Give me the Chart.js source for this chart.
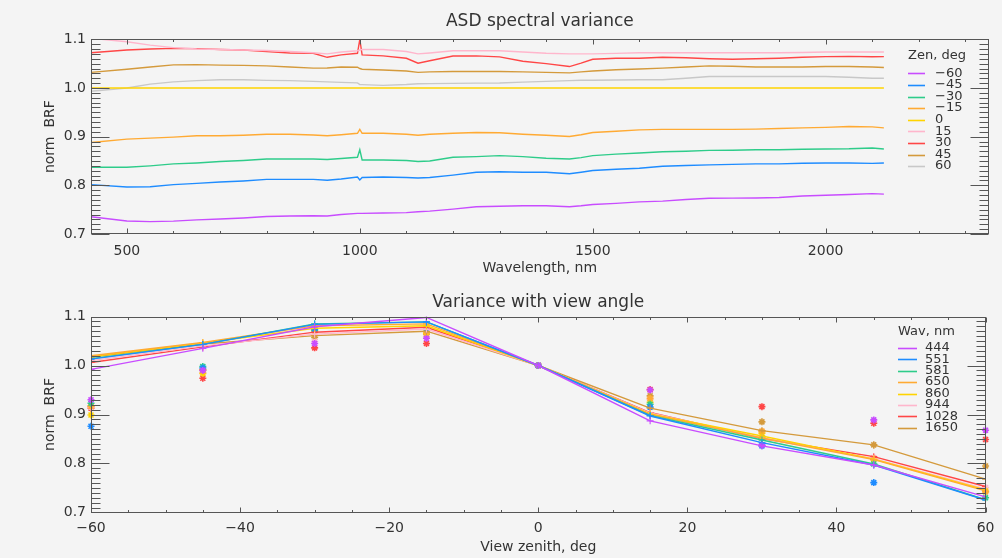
<!DOCTYPE html>
<html><head><meta charset="utf-8">
<script src="https://cdn.jsdelivr.net/npm/chart.js@4"></script>
<style>
html,body{margin:0;padding:0;background:#f4f4f4;}
#wrap{position:relative;width:1002px;height:558px;overflow:hidden;background:#f4f4f4;}
canvas{position:absolute;left:0;}
#c1{top:0;} #c2{top:282px;}
</style></head><body>
<div id="wrap"><canvas id="c1" width="1002" height="282"></canvas><canvas id="c2" width="1002" height="276"></canvas></div>
<script>
// ---------- DATA: top chart (ASD spectral variance) ----------
const wavelengths = [423, 500, 550, 600, 650, 700, 750, 800, 850, 900, 930, 960, 995, 1000, 1005, 1050, 1100, 1125, 1150, 1200, 1250, 1300, 1350, 1400, 1450, 1475, 1500, 1550, 1600, 1650, 1700, 1750, 1800, 1850, 1900, 1950, 2000, 2050, 2100, 2125];
const zenLabels = ['−60', '−45', '−30', '−15', '0', '15', '30', '45', '60'];
const brfZenM60 = [0.7356, 0.7268, 0.7254, 0.7265, 0.729, 0.7308, 0.733, 0.736, 0.737, 0.7376, 0.737, 0.740, 0.7424, 0.7424, 0.7424, 0.743, 0.744, 0.7458, 0.747, 0.751, 0.756, 0.757, 0.758, 0.758, 0.756, 0.758, 0.7607, 0.763, 0.766, 0.7675, 0.771, 0.7735, 0.7737, 0.774, 0.775, 0.778, 0.7797, 0.781, 0.783, 0.782];
const brfZenM45 = [0.8014, 0.7966, 0.797, 0.8014, 0.804, 0.8068, 0.809, 0.8122, 0.8122, 0.8122, 0.8105, 0.813, 0.817, 0.811, 0.816, 0.817, 0.816, 0.815, 0.816, 0.821, 0.827, 0.828, 0.827, 0.827, 0.8237, 0.827, 0.8305, 0.833, 0.835, 0.8393, 0.8407, 0.842, 0.843, 0.844, 0.844, 0.8455, 0.846, 0.846, 0.845, 0.846];
const brfZenM30 = [0.837, 0.837, 0.840, 0.844, 0.846, 0.849, 0.851, 0.854, 0.854, 0.854, 0.853, 0.855, 0.8576, 0.873, 0.852, 0.852, 0.851, 0.8488, 0.850, 0.8576, 0.859, 0.861, 0.859, 0.8556, 0.854, 0.857, 0.861, 0.864, 0.8664, 0.869, 0.870, 0.8719, 0.872, 0.873, 0.873, 0.874, 0.8746, 0.875, 0.8766, 0.8746];
const brfZenM15 = [0.888, 0.8949, 0.897, 0.899, 0.9017, 0.9017, 0.903, 0.905, 0.905, 0.9035, 0.9017, 0.904, 0.907, 0.915, 0.907, 0.907, 0.905, 0.903, 0.905, 0.907, 0.9085, 0.908, 0.905, 0.903, 0.9003, 0.904, 0.9085, 0.911, 0.914, 0.915, 0.915, 0.915, 0.915, 0.9155, 0.9166, 0.918, 0.919, 0.9207, 0.920, 0.918];
const brfZen0 = [1.0, 1.0, 1.0, 1.0, 1.0, 1.0, 1.0, 1.0, 1.0, 1.0, 1.0, 1.0, 1.0, 1.0, 1.0, 1.0, 1.0, 1.0, 1.0, 1.0, 1.0, 1.0, 1.0, 1.0, 1.0, 1.0, 1.0, 1.0, 1.0, 1.0, 1.0, 1.0, 1.0, 1.0, 1.0, 1.0, 1.0, 1.0, 1.0, 1.0];
const brfZen15 = [1.102, 1.095, 1.088, 1.083, 1.080, 1.079, 1.078, 1.077, 1.075, 1.0725, 1.070, 1.074, 1.0766, 1.078, 1.079, 1.079, 1.075, 1.070, 1.072, 1.0766, 1.0766, 1.0766, 1.074, 1.0712, 1.070, 1.070, 1.070, 1.071, 1.0725, 1.0725, 1.0725, 1.0725, 1.0725, 1.0725, 1.0725, 1.073, 1.074, 1.074, 1.074, 1.074];
const brfZen30 = [1.0725, 1.078, 1.080, 1.0814, 1.0808, 1.079, 1.078, 1.0746, 1.072, 1.0712, 1.063, 1.068, 1.0712, 1.0997, 1.068, 1.066, 1.061, 1.051, 1.056, 1.0658, 1.066, 1.064, 1.055, 1.050, 1.044, 1.051, 1.059, 1.061, 1.061, 1.063, 1.062, 1.060, 1.059, 1.060, 1.061, 1.063, 1.0644, 1.065, 1.064, 1.0644];
const brfZen45 = [1.032, 1.0386, 1.043, 1.0475, 1.048, 1.047, 1.0465, 1.0454, 1.043, 1.0407, 1.041, 1.043, 1.0427, 1.040, 1.0386, 1.037, 1.035, 1.032, 1.033, 1.034, 1.034, 1.034, 1.033, 1.032, 1.031, 1.033, 1.035, 1.0373, 1.039, 1.0407, 1.043, 1.0454, 1.0445, 1.043, 1.043, 1.043, 1.044, 1.044, 1.043, 1.042];
const brfZen60 = [0.9932, 1.0, 1.008, 1.0125, 1.015, 1.017, 1.017, 1.0156, 1.015, 1.0136, 1.0125, 1.0115, 1.0104, 1.007, 1.0068, 1.0054, 1.007, 1.0088, 1.009, 1.0095, 1.010, 1.0102, 1.012, 1.0136, 1.015, 1.016, 1.016, 1.0165, 1.017, 1.017, 1.020, 1.0237, 1.0237, 1.0237, 1.0237, 1.0237, 1.0237, 1.022, 1.020, 1.020];
const topXTicks = [500, 1000, 1500, 2000];
const brfYTicks = [0.7, 0.8, 0.9, 1.0, 1.1];

// ---------- DATA: bottom chart (Variance with view angle) ----------
const viewAngles = [-60, -45, -30, -15, 0, 15, 30, 45, 60];
const wavLabels = ['444', '551', '581', '650', '860', '944', '1028', '1650'];
const lineWav444  = [0.992, 1.035, 1.079, 1.098, 1.0, 0.887, 0.836, 0.797, 0.732];
const lineWav551  = [1.013, 1.043, 1.084, 1.089, 1.0, 0.897, 0.8425, 0.797, 0.7255];
const lineWav581  = [1.014, 1.043, 1.085, 1.089, 1.0, 0.898, 0.848, 0.799, 0.726];
const lineWav650  = [1.020, 1.047, 1.081, 1.085, 1.0, 0.900, 0.852, 0.808, 0.744];
const lineWav860  = [1.018, 1.046, 1.076, 1.081, 1.0, 0.901, 0.856, 0.809, 0.746];
const lineWav944  = [1.010, 1.040, 1.064, 1.0745, 1.0, 0.903, 0.852, 0.810, 0.748];
const lineWav1028 = [1.006, 1.038, 1.068, 1.078, 1.0, 0.904, 0.851, 0.814, 0.753];
const lineWav1650 = [1.017, 1.044, 1.061, 1.070, 1.0, 0.913, 0.867, 0.838, 0.768];
const starWav444  = [0.930, 0.990, 1.045, 1.0555, 1.0, 0.950, 0.838, 0.889, 0.868];
const starWav551  = [0.876, 0.995, 1.074, 1.074, 1.0, 0.915, 0.836, 0.761, 0.688];
const starWav581  = [0.923, 0.998, 1.072, 1.076, 1.0, 0.921, 0.852, 0.799, 0.730];
const starWav650  = [0.917, 0.991, 1.070, 1.069, 1.0, 0.933, 0.866, 0.810, 0.742];
const starWav860  = [0.899, 0.984, 1.079, 1.066, 1.0, 0.925, 0.862, 0.808, 0.744];
const starWav944  = [0.915, 0.985, 1.049, 1.059, 1.0, 0.930, 0.865, 0.812, 0.751];
const starWav1028 = [0.913, 0.974, 1.036, 1.045, 1.0, 0.951, 0.916, 0.882, 0.849];
const starWav1650 = [0.917, 0.991, 1.057, 1.064, 1.0, 0.938, 0.885, 0.838, 0.795];
const bottomXTicks = [-60, -40, -20, 0, 20, 40, 60];

// ---------- styles ----------
const zenColors = ['#c84cff', '#1e8cff', '#2ecc8a', '#ffaa33', '#ffd400', '#ffb6cc', '#ff4646', '#d49a3c', '#c8c8c8'];
const wavColors = ['#c84cff', '#1e8cff', '#2ecc8a', '#ffaa33', '#ffd400', '#ffb6cc', '#ff4646', '#d49a3c'];
const FONT = "'DejaVu Sans', sans-serif";
const TXT = '#333333';
const AXIS = '#555555';
Chart.defaults.font.family = FONT;
Chart.defaults.color = TXT;

const minusFmt = v => (v < 0 ? '−' + Math.abs(v) : String(v));

// IDL-like frame: box, inward ticks on all four sides, in-plot legend
const idlFrame = {
  id: 'idlFrame',
  afterDraw(chart, args, o) {
    const {ctx, chartArea: a, scales: {x, y}} = chart;
    ctx.save();
    ctx.strokeStyle = AXIS; ctx.lineWidth = 1;
    const L = Math.round(a.left) + 0.5, R = Math.round(a.right) - 0.5;
    const T = Math.round(a.top) + 0.5, B = Math.round(a.bottom) - 0.5;
    ctx.strokeRect(L, T, R - L, B - T);
    ctx.beginPath();
    const isMajor = (v, m) => Math.abs(v / m - Math.round(v / m)) < 1e-6;
    for (let k = Math.ceil(x.min / o.xMinor - 1e-9); k * o.xMinor <= x.max + 1e-9; k++) {
      const v = k * o.xMinor;
      const px = Math.round(x.getPixelForValue(v)) + 0.5;
      const len = isMajor(v, o.xMajor) ? o.xLen : o.xLen / 2;
      ctx.moveTo(px, B); ctx.lineTo(px, B - len);
      ctx.moveTo(px, T); ctx.lineTo(px, T + len);
    }
    for (let k = Math.ceil(y.min / o.yMinor - 1e-9); k * o.yMinor <= y.max + 1e-9; k++) {
      const v = k * o.yMinor;
      const py = Math.round(y.getPixelForValue(v)) + 0.5;
      const len = isMajor(v, o.yMajor) ? o.yLen : o.yLen / 2;
      ctx.moveTo(L, py); ctx.lineTo(L + len, py);
      ctx.moveTo(R, py); ctx.lineTo(R - len, py);
    }
    ctx.stroke();
    // legend
    ctx.fillStyle = TXT;
    ctx.textBaseline = 'middle';
    ctx.textAlign = 'left';
    ctx.font = "13px " + FONT;
    ctx.fillText(o.legendTitle, o.lx, o.ly);
    let i = 0;
    chart.data.datasets.forEach(ds => {
      if (!ds.inLegend) return;
      const yy = o.rowY + i * o.rowH;
      ctx.strokeStyle = ds.borderColor; ctx.lineWidth = 1.6;
      ctx.beginPath(); ctx.moveTo(o.lx, Math.round(yy) + 0.5); ctx.lineTo(o.lx + o.lineW, Math.round(yy) + 0.5); ctx.stroke();
      ctx.fillStyle = TXT;
      ctx.fillText(ds.label, o.tx, yy);
      i++;
    });
    ctx.restore();
  }
};

function yScale(titleText) {
  return {
    type: 'linear', min: 0.7, max: 1.1,
    afterBuildTicks: s => { s.ticks = brfYTicks.map(v => ({value: v})); },
    afterFit: s => { s.width = 91; },
    grid: {display: false, drawTicks: false},
    border: {display: false},
    ticks: {font: {size: 14}, color: TXT, padding: 5, callback: v => v.toFixed(1)},
    title: {display: true, text: titleText, font: {size: 14}, color: TXT, padding: {top: 42, bottom: 0}}
  };
}

// ---------- top chart ----------
const topSeries = [brfZenM60, brfZenM45, brfZenM30, brfZenM15, brfZen0, brfZen15, brfZen30, brfZen45, brfZen60];
new Chart(document.getElementById('c1'), {
  type: 'line',
  data: {
    datasets: topSeries.map((arr, i) => ({
      label: zenLabels[i], inLegend: true,
      data: wavelengths.map((w, j) => ({x: w, y: arr[j]})),
      borderColor: zenColors[i], borderWidth: 1.4, pointRadius: 0, tension: 0, fill: false
    }))
  },
  options: {
    responsive: false, animation: false, events: [],
    layout: {padding: {left: 0, right: 13.3, top: 0, bottom: 0}},
    plugins: {
      legend: {display: false}, tooltip: {enabled: false},
      title: {display: true, fullSize: false, text: 'ASD spectral variance', font: {size: 17, weight: 'normal'}, color: TXT, padding: {top: 11.8, bottom: 7.1}},
      idlFrame: {xMajor: 500, xMinor: 100, yMajor: 0.1, yMinor: 0.01, xLen: 5, yLen: 18,
        legendTitle: 'Zen, deg', lx: 908, ly: 56, lineW: 17, tx: 935, rowY: 73.3, rowH: 11.6}
    },
    scales: {
      x: {
        type: 'linear', min: 423, max: 2350,
        afterBuildTicks: s => { s.ticks = topXTicks.map(v => ({value: v})); },
        afterFit: s => { s.height = 48; },
        grid: {display: false, drawTicks: false},
        border: {display: false},
        ticks: {font: {size: 14}, color: TXT, padding: 9, maxRotation: 0, autoSkip: false, callback: v => String(v)},
        title: {display: true, text: 'Wavelength, nm', font: {size: 14}, color: TXT, padding: {top: 0, bottom: 5}}
      },
      y: yScale('norm  BRF')
    }
  },
  plugins: [idlFrame]
});

// ---------- bottom chart ----------
const lineSeries = [lineWav444, lineWav551, lineWav581, lineWav650, lineWav860, lineWav944, lineWav1028, lineWav1650];
const starSeries = [starWav444, starWav551, starWav581, starWav650, starWav860, starWav944, starWav1028, starWav1650];
const bottomDatasets = [];
starSeries.forEach((arr, i) => bottomDatasets.push({
  label: wavLabels[i] + ' obs', inLegend: false, showLine: false, clip: false,
  data: viewAngles.map((a, j) => ({x: a, y: arr[j]})),
  borderColor: wavColors[i], backgroundColor: wavColors[i],
  pointStyle: 'star', pointRadius: 3.5, pointBorderWidth: 1.6, order: 2
}));
lineSeries.forEach((arr, i) => bottomDatasets.push({
  label: wavLabels[i], inLegend: true,
  data: viewAngles.map((a, j) => ({x: a, y: arr[j]})),
  borderColor: wavColors[i], borderWidth: 1.4, tension: 0, fill: false,
  pointStyle: 'cross', pointRadius: 3.5, pointBorderWidth: 1.1, pointBorderColor: wavColors[i], order: 1
}));
new Chart(document.getElementById('c2'), {
  type: 'line',
  data: {datasets: bottomDatasets},
  options: {
    responsive: false, animation: false, events: [],
    layout: {padding: {left: 0, right: 13.3, top: 0, bottom: 0}},
    plugins: {
      legend: {display: false}, tooltip: {enabled: false},
      title: {display: true, fullSize: false, text: 'Variance with view angle', font: {size: 17, weight: 'normal'}, color: TXT, padding: {top: 10.8, bottom: 3.3}},
      idlFrame: {xMajor: 20, xMinor: 5, yMajor: 0.1, yMinor: 0.01, xLen: 5, yLen: 18,
        legendTitle: 'Wav, nm', lx: 898, ly: 49.7, lineW: 19, tx: 925, rowY: 65.7, rowH: 11.45}
    },
    scales: {
      x: {
        type: 'linear', min: -60, max: 60,
        afterBuildTicks: s => { s.ticks = bottomXTicks.map(v => ({value: v})); },
        afterFit: s => { s.height = 45.5; },
        grid: {display: false, drawTicks: false},
        border: {display: false},
        ticks: {font: {size: 14}, color: TXT, padding: 7.5, maxRotation: 0, autoSkip: false, callback: minusFmt},
        title: {display: true, text: 'View zenith, deg', font: {size: 14}, color: TXT, padding: {top: 0, bottom: 2.5}}
      },
      y: yScale('norm  BRF')
    }
  },
  plugins: [idlFrame]
});
</script>
</body></html>
